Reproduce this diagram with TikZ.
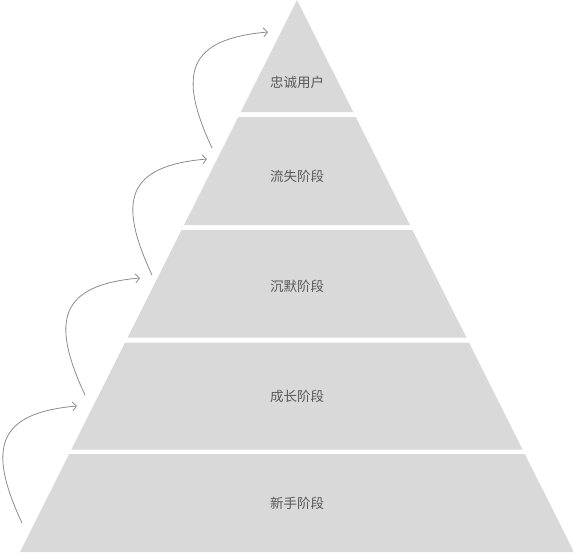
\documentclass[tikz,border=0pt]{standalone}
\usepackage{fontspec}
\setmainfont{Noto Sans CJK SC}
\usetikzlibrary{arrows.meta}
\definecolor{layerfill}{HTML}{D9D9D9}
\definecolor{labelgray}{HTML}{5A5A5A}
\definecolor{arrowgray}{HTML}{8C8C8C}
\tikzset{
  layer/.style={fill=layerfill, draw=none},
  stagelabel/.style={text=labelgray, font=\fontsize{13.5pt}{16pt}\selectfont, inner sep=0pt},
  uparrow/.style={draw=arrowgray, line width=0.8pt, -{Straight Barb[length=4pt,width=9pt]}}
}
\begin{document}
\begin{tikzpicture}[x=1pt,y=-1pt]
\useasboundingbox (0,0) rectangle (573,552);
% layers
\fill[layer] (297,0) -- (353.2,112) -- (240.8,112) -- cycle;
\fill[layer] (238.3,117) -- (355.7,117) -- (409.9,225) -- (184.1,225) -- cycle;
\fill[layer] (181.6,230) -- (412.4,230) -- (466.4,337.5) -- (127.6,337.5) -- cycle;
\fill[layer] (125.1,342.5) -- (468.9,342.5) -- (522.6,449.5) -- (71.4,449.5) -- cycle;
\fill[layer] (69.2,454) -- (524.8,454) -- (574,552) -- (20,552) -- cycle;
% labels
\node[stagelabel] (l1) at (297,82) {忠诚用户};
\node[stagelabel] (l2) at (297,176) {流失阶段};
\node[stagelabel] (l3) at (297,286) {沉默阶段};
\node[stagelabel] (l4) at (297,396) {成长阶段};
\node[stagelabel] (l5) at (297,503) {新手阶段};
% arrow end points
\coordinate (s1) at (22,523);  \coordinate (e1) at (77,406);
\coordinate (s2) at (85,395);  \coordinate (e2) at (140,278);
\coordinate (s3) at (152,275); \coordinate (e3) at (207,159);
\coordinate (s4) at (212,148); \coordinate (e4) at (268,32);
\foreach \i in {1,2,3,4}{
  \draw[uparrow] (s\i) .. controls +(-35,-75) and +(-80,7) .. (e\i);
}
\end{tikzpicture}
\end{document}
